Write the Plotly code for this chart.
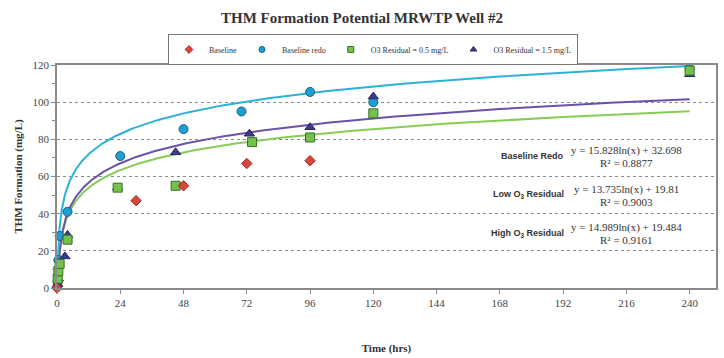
import numpy as np
import plotly.graph_objects as go

# ---- data ----
base_t = [0, 30, 48, 72, 96]
base_v = [0, 47, 55, 67, 68.5]

redo_t = [0.25, 0.5, 1, 4, 24, 48, 70, 96, 120, 240]
redo_v = [3, 15, 28, 41, 71, 85.5, 95, 105.5, 100, 118]

low_t = [0.25, 0.5, 1, 4, 23, 45, 74, 96, 120, 240]
low_v = [5, 9, 13, 26, 54, 55, 78.5, 81, 94, 117]

high_t = [0.25, 0.5, 3, 4, 23, 45, 73, 96, 120, 240]
high_v = [2, 5, 17, 28.5, 54, 73, 83, 86.5, 103, 115]

fits = {
    "redo": (15.828, 32.698),
    "low": (13.735, 19.81),
    "high": (14.989, 19.484),
}
fit_labels = ["Baseline Redo", "Low O<sub>3</sub> Residual", "High O<sub>3</sub> Residual"]
fit_eqs = ["y = 15.828ln(x) + 32.698", "y = 13.735ln(x) + 19.81", "y = 14.989ln(x) + 19.484"]
fit_r2 = ["R² = 0.8877", "R² = 0.9003", "R² = 0.9161"]

x_ticks = [0, 24, 48, 72, 96, 120, 144, 168, 192, 216, 240]

serif = "Liberation Serif"
fig = go.Figure()

tt = np.exp(np.linspace(np.log(0.3), np.log(240), 300))
line_cols = {"redo": "#2bb3d6", "low": "#86cc55", "high": "#6a52a8"}
for key in ["low", "high", "redo"]:
    a, b = fits[key]
    fig.add_trace(go.Scatter(x=tt, y=a * np.log(tt) + b, mode="lines",
                             line=dict(color=line_cols[key], width=2),
                             showlegend=False, hoverinfo="skip"))

styles = {
    "Baseline": dict(symbol="diamond", color="#d8473a", line=dict(color="#9c2a22", width=1)),
    "Baseline redo": dict(symbol="circle", color="#1e9fd2", line=dict(color="#1d5d80", width=1)),
    "O3 Residual = 0.5 mg/L": dict(symbol="square", color="#72c24c", line=dict(color="#3d6e2a", width=1)),
    "O3 Residual = 1.5 mg/L": dict(symbol="triangle-up", color="#3d3a8c", line=dict(color="#2a2766", width=1)),
}
series = [
    ("Baseline redo", redo_t, redo_v, 9),
    ("O3 Residual = 1.5 mg/L", high_t, high_v, 9),
    ("O3 Residual = 0.5 mg/L", low_t, low_v, 9),
    ("Baseline", base_t, base_v, 8),
]
for name, xs, ys, sz in series:
    fig.add_trace(go.Scatter(x=xs, y=ys, mode="markers", name=name, showlegend=False,
                             marker=dict(size=sz, **styles[name]), cliponaxis=False))

# legend-only entries (small symbols as in the reference)
for name in ["Baseline", "Baseline redo", "O3 Residual = 0.5 mg/L", "O3 Residual = 1.5 mg/L"]:
    fig.add_trace(go.Scatter(x=[None], y=[None], mode="markers", name=name,
                             marker=dict(size=6, **styles[name])))

L, R, T, B = 57, 8, 65, 70
W, H = 724, 358
pw, ph = W - L - R, H - T - B

def px(x):
    return (x - L) / pw

def py(y):
    return (H - B - y) / ph

ann = []
label_y = [156, 194, 233]
eq_y = [150, 189, 227]
for i in range(3):
    ann.append(dict(x=px(566), y=py(label_y[i]), xref="paper", yref="paper", text="<b>" + fit_labels[i] + "</b>",
                    showarrow=False, xanchor="right", yanchor="middle",
                    font=dict(family="Liberation Sans", size=9, color="#333")))
    ann.append(dict(x=px(626), y=py(eq_y[i]), xref="paper", yref="paper", text=fit_eqs[i],
                    showarrow=False, xanchor="center", yanchor="middle",
                    font=dict(family=serif, size=11, color="#333")))
    ann.append(dict(x=px(626), y=py(eq_y[i] + 13), xref="paper", yref="paper", text=fit_r2[i],
                    showarrow=False, xanchor="center", yanchor="middle",
                    font=dict(family=serif, size=11, color="#333")))

fig.update_layout(
    width=W, height=H,
    margin=dict(l=L, r=R, t=T, b=B),
    paper_bgcolor="white", plot_bgcolor="white",
    title=dict(text="<b>THM Formation Potential MRWTP Well #2</b>", x=0.5, xanchor="center",
               y=1 - 18 / H, yanchor="middle", font=dict(family=serif, size=15, color="#333")),
    legend=dict(orientation="h", x=px(373), xanchor="center", y=py(34), yanchor="top",
                bordercolor="#777", borderwidth=1, font=dict(family=serif, size=8, color="#333"),
                itemwidth=30, tracegroupgap=0),
    annotations=ann,
    xaxis=dict(range=[0, 250], tickvals=x_ticks, ticktext=[str(v) for v in x_ticks], automargin=False,
               showgrid=False, zeroline=False, showline=True, mirror=True, linecolor="#8a8a8a", linewidth=1.5,
               ticks="outside", ticklen=4, tickcolor="#8a8a8a",
               tickfont=dict(family=serif, size=11, color="#444"),
               title=dict(text="<b>Time (hrs)</b>", standoff=36, font=dict(family=serif, size=11, color="#333"))),
    yaxis=dict(range=[0, 120], dtick=20, showgrid=True, gridcolor="#8a8a8a", griddash="dot", gridwidth=1,
               zeroline=False, showline=True, mirror=True, linecolor="#8a8a8a", linewidth=1.5, automargin=False,
               ticks="outside", ticklen=4, tickcolor="#8a8a8a",
               minor=dict(dtick=10, ticks="outside", ticklen=3, tickcolor="#8a8a8a", showgrid=False),
               tickfont=dict(family=serif, size=11, color="#444"),
               title=dict(text="<b>THM Formation (mg/L)</b>", standoff=8, font=dict(family=serif, size=11, color="#333"))),
)

fig.write_html("out.html")
